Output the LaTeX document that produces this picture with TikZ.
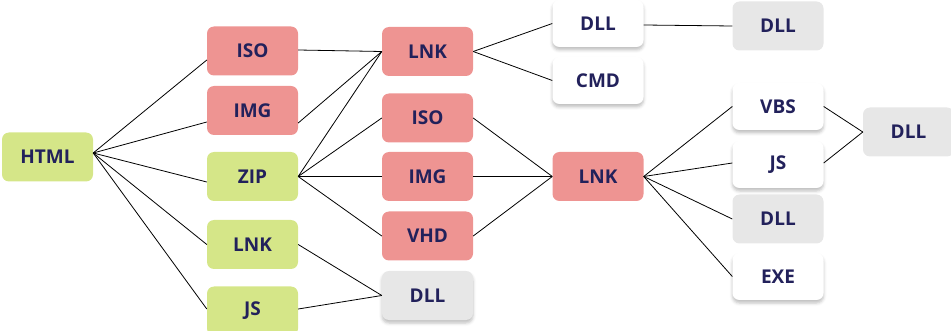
\documentclass[tikz,border=0pt]{standalone}
\usepackage{fontspec}
\setmainfont{Open Sans}
\usetikzlibrary{shadows.blur}
\definecolor{boxred}{HTML}{EE9492}
\definecolor{boxgreen}{HTML}{D5E688}
\definecolor{boxgray}{HTML}{E7E7E7}
\definecolor{ink}{HTML}{22215B}
\tikzset{
  box/.style={rounded corners=7pt, minimum width=91pt, minimum height=49pt,
    inner sep=0pt, text=ink, font=\fontsize{19}{19}\selectfont\bfseries},
  redbox/.style={box, fill=boxred},
  greenbox/.style={box, fill=boxgreen},
  graybox/.style={box, fill=boxgray},
  whitebox/.style={box, fill=white, minimum height=47pt,
    blur shadow={shadow xshift=0pt, shadow yshift=-3pt, shadow blur radius=3pt, shadow opacity=25}},
  shadedgray/.style={graybox,
    blur shadow={shadow xshift=0pt, shadow yshift=-3pt, shadow blur radius=3pt, shadow opacity=25}},
  link/.style={draw=black, line width=0.8pt}
}
\begin{document}
\begin{tikzpicture}[x=1pt,y=-1pt]
\useasboundingbox (0,0) rectangle (951,331);

% root
\node[greenbox] (html) at (47.5,157) {HTML};

% second column
\node[redbox]   (iso1) at (252.5,51)    {ISO};
\node[redbox]   (img1) at (252.5,110.5) {IMG};
\node[greenbox] (zip)  at (252.5,176.5) {ZIP};
\node[greenbox] (lnk1) at (252.5,244.5) {LNK};
\node[greenbox] (js1)  at (252.5,311)   {JS};

% third column
\node[redbox]     (lnk2) at (427.5,51.5)  {LNK};
\node[redbox]     (iso2) at (427.5,118)   {ISO};
\node[redbox]     (img2) at (427.5,176.5) {IMG};
\node[redbox]     (vhd)  at (427.5,236)   {VHD};
\node[shadedgray] (dll1) at (427.5,295.5) {DLL};

% fourth column
\node[whitebox] (dllw) at (598,23.5)  {DLL};
\node[whitebox] (cmd)  at (598,80.5)  {CMD};
\node[redbox]   (lnk3) at (598,176.5) {LNK};

% fifth column
\node[graybox]  (dllg) at (778,26)    {DLL};
\node[whitebox] (vbs)  at (778,106.5) {VBS};
\node[whitebox] (js2)  at (778,164.5) {JS};
\node[graybox]  (dll3) at (778,219)   {DLL};
\node[whitebox] (exe)  at (778,276.5) {EXE};

% last column
\node[graybox]  (dll4) at (908.5,132) {DLL};

% connectors
\coordinate (hout) at ([yshift=4pt]html.east);
\draw[link] (hout) -- ([yshift=-9pt]iso1.west);
\draw[link] (hout) -- ([yshift=-11.5pt]img1.west);
\draw[link] (hout) -- ([yshift=-5.5pt]zip.west);
\draw[link] (hout) -- (lnk1.west);
\draw[link] (hout) -- ([yshift=2pt]js1.west);

\draw[link] ([yshift=1pt]iso1.east) -- (lnk2.west);
\draw[link] ([yshift=-12.5pt]img1.east) -- (lnk2.west);
\draw[link] (zip.east) -- (lnk2.west);
\draw[link] (zip.east) -- (iso2.west);
\draw[link] (zip.east) -- (img2.west);
\draw[link] (zip.east) -- (vhd.west);
\draw[link] (lnk1.east) -- (dll1.west);
\draw[link] ([yshift=2pt]js1.east) -- (dll1.west);

\draw[link] (lnk2.east) -- (dllw.west);
\draw[link] (lnk2.east) -- (cmd.west);
\draw[link] ([yshift=-1.5pt]dllw.east) -- (dllg.west);

\draw[link] (iso2.east) -- (lnk3.west);
\draw[link] (img2.east) -- (lnk3.west);
\draw[link] (vhd.east) -- (lnk3.west);

\draw[link] (lnk3.east) -- (vbs.west);
\draw[link] (lnk3.east) -- ([yshift=1.5pt]js2.west);
\draw[link] (lnk3.east) -- (dll3.west);
\draw[link] (lnk3.east) -- (exe.west);

\draw[link] (vbs.east) -- (dll4.west);
\draw[link] ([yshift=1.5pt]js2.east) -- (dll4.west);
\end{tikzpicture}
\end{document}
